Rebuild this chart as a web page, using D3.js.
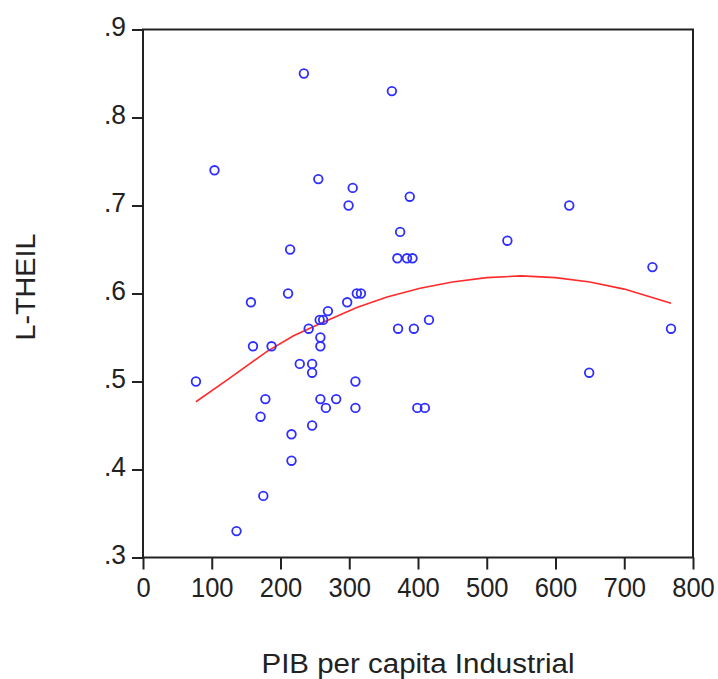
<!DOCTYPE html>
<html>
<head>
<meta charset="utf-8">
<script src="https://cdn.jsdelivr.net/npm/d3@7"></script>
<style>
  html, body { margin: 0; padding: 0; background: #fff; }
  svg { display: block; }
  text { font-family: "Liberation Sans", Arial, sans-serif; fill: #222; }
</style>
</head>
<body>
<svg id="chart" width="718" height="679"></svg>
<script>
// GDP per capita (industrial) vs. L-Theil index, one entry per observation
const pibIndustrial = [234, 362, 104, 255, 305, 299, 388, 620, 374, 530,
  214, 370, 384, 392, 741, 211, 311, 317, 157, 297,
  269, 257, 262, 416, 241, 371, 394, 768, 258, 258,
  160, 187, 228, 246, 246, 649, 77, 309, 178, 258,
  281, 266, 309, 399, 410, 171, 246, 216, 216, 175, 136];
const lTheil = [0.85, 0.83, 0.74, 0.73, 0.72, 0.70, 0.71, 0.70, 0.67, 0.66,
  0.65, 0.64, 0.64, 0.64, 0.63, 0.60, 0.60, 0.60, 0.59, 0.59,
  0.58, 0.57, 0.57, 0.57, 0.56, 0.56, 0.56, 0.56, 0.55, 0.54,
  0.54, 0.54, 0.52, 0.52, 0.51, 0.51, 0.50, 0.50, 0.48, 0.48,
  0.48, 0.47, 0.47, 0.47, 0.47, 0.46, 0.45, 0.44, 0.41, 0.37, 0.33];

// Fitted trend line
const fitX = [77, 121, 180, 219, 258, 311, 355, 403, 450, 500, 550, 600, 650, 700, 768];
const fitY = [0.477, 0.501, 0.534, 0.552, 0.566, 0.584, 0.596, 0.606, 0.613, 0.618, 0.620, 0.618, 0.613, 0.605, 0.589];

const xTicks = [0, 100, 200, 300, 400, 500, 600, 700, 800];
const yTicks = [0.3, 0.4, 0.5, 0.6, 0.7, 0.8, 0.9];
const yTickLabels = [".3", ".4", ".5", ".6", ".7", ".8", ".9"];

const svg = d3.select("#chart");
const plotLeft = 143, plotRight = 693, plotTop = 29.5, plotBottom = 557.5;

const x = d3.scaleLinear().domain([0, 800]).range([plotLeft, plotRight]);
const y = d3.scaleLinear().domain([0.3, 0.9]).range([plotBottom, plotTop]);

// Plot frame
svg.append("rect")
  .attr("x", plotLeft).attr("y", plotTop)
  .attr("width", plotRight - plotLeft).attr("height", plotBottom - plotTop)
  .attr("fill", "none").attr("stroke", "#222").attr("stroke-width", 2);

// X axis
const xAxis = svg.append("g")
  .attr("transform", `translate(0,${plotBottom})`)
  .call(d3.axisBottom(x).tickValues(xTicks).tickSize(12).tickPadding(8).tickFormat(d3.format("d")));
xAxis.select(".domain").remove();
xAxis.selectAll(".tick line").attr("stroke", "#222").attr("stroke-width", 2);
xAxis.selectAll(".tick text")
  .attr("font-size", 27)
  .attr("fill", "#222")
  .attr("textLength", function(d) { return String(d).length * 14.2; })
  .attr("lengthAdjust", "spacingAndGlyphs");

// Y axis
const yAxis = svg.append("g")
  .attr("transform", `translate(${plotLeft},0)`)
  .call(d3.axisLeft(y).tickValues(yTicks).tickSize(11).tickPadding(6)
    .tickFormat((d, i) => yTickLabels[i]));
yAxis.select(".domain").remove();
yAxis.selectAll(".tick line").attr("stroke", "#222").attr("stroke-width", 2);
yAxis.selectAll(".tick text")
  .attr("font-size", 27)
  .attr("fill", "#222")
  .attr("dy", "0.22em")
  .attr("textLength", 22)
  .attr("lengthAdjust", "spacingAndGlyphs");

// Axis titles
svg.append("text")
  .attr("x", 418).attr("y", 673)
  .attr("text-anchor", "middle")
  .attr("font-size", 27)
  .attr("textLength", 313)
  .attr("lengthAdjust", "spacingAndGlyphs")
  .text("PIB per capita Industrial");

svg.append("text")
  .attr("transform", "translate(35,287) rotate(-90)")
  .attr("text-anchor", "middle")
  .attr("font-size", 28)
  .attr("textLength", 107)
  .attr("lengthAdjust", "spacingAndGlyphs")
  .text("L-THEIL");

// Trend line
const line = d3.line().x(d => x(d[0])).y(d => y(d[1]));
svg.append("path")
  .datum(fitX.map((v, i) => [v, fitY[i]]))
  .attr("d", line)
  .attr("fill", "none")
  .attr("stroke", "#ff2a2a")
  .attr("stroke-width", 1.6);

// Observations
svg.append("g")
  .selectAll("circle")
  .data(pibIndustrial.map((v, i) => [v, lTheil[i]]))
  .join("circle")
  .attr("cx", d => x(d[0]))
  .attr("cy", d => y(d[1]))
  .attr("r", 4.3)
  .attr("fill", "none")
  .attr("stroke", "#2e2eff")
  .attr("stroke-width", 1.8);
</script>
</body>
</html>
